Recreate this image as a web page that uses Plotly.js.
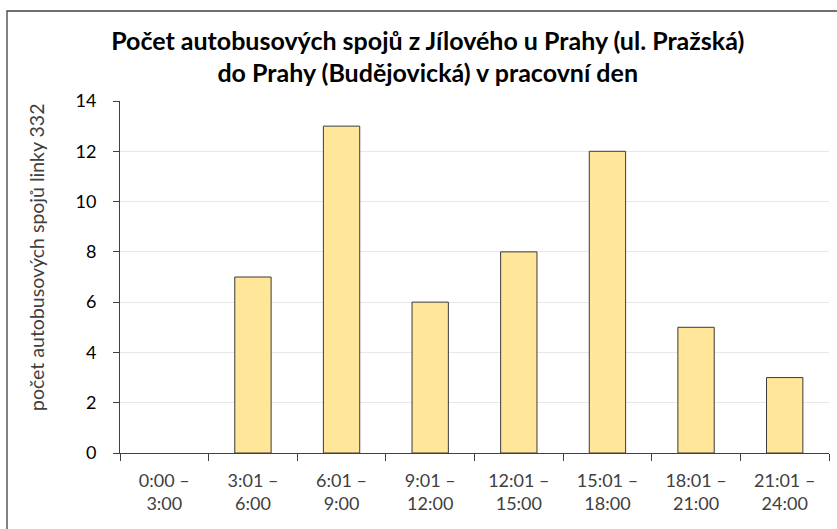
<!DOCTYPE html>
<html>
<head>
<meta charset="utf-8">
<script src="https://cdn.plot.ly/plotly-3.0.1.min.js"></script>
<style>html,body{margin:0;padding:0;background:#fff;}#chart{width:837px;height:529px;}</style>
</head>
<body>
<div id="chart"></div>
<script>
const categories = ["0:00 –<br>3:00","3:01 –<br>6:00","6:01 –<br>9:00","9:01 –<br>12:00","12:01 –<br>15:00","15:01 –<br>18:00","18:01 –<br>21:00","21:01 –<br>24:00"];
const counts = [0, 7, 13, 6, 8, 12, 5, 3];
const yTicks = [0, 2, 4, 6, 8, 10, 12, 14];
const titleText = "Počet autobusových spojů z Jílového u Prahy (ul. Pražská)<br>do Prahy (Budějovická) v pracovní den";
const yTitleText = "počet autobusových spojů linky 332";

const FONT = "Lato, 'Open Sans', sans-serif";

const trace = {
  type: "bar",
  x: categories,
  y: counts,
  marker: {color: "#FFE699", line: {color: "#3a3a3a", width: counts.map(v => v > 0 ? 1 : 0)}},
  hoverinfo: "skip"
};

const layout = {
  width: 837, height: 529,
  margin: {l: 120, r: 8, t: 101, b: 76},
  paper_bgcolor: "#fff", plot_bgcolor: "#fff",
  showlegend: false,
  bargap: 0.59,
  font: {family: FONT, color: "#404040"},
  title: {
    text: titleText,
    font: {family: FONT, size: 25, color: "#000", weight: "bold"},
    x: 0.511, xref: "container", xanchor: "center",
    y: 0.906, yref: "container", yanchor: "middle"
  },
  xaxis: {
    type: "category",
    tickson: "boundaries",
    ticks: "outside", ticklen: 7, tickcolor: "#404040",
    showline: true, linecolor: "#404040", linewidth: 1,
    showgrid: false, zeroline: false,
    tickfont: {family: FONT, size: 18, color: "#404040"},
    ticklabelstandoff: 11,
    fixedrange: true
  },
  yaxis: {
    range: [0, 14],
    tickvals: yTicks, ticktext: yTicks.map(String),
    ticks: "outside", ticklen: 6, tickcolor: "#404040",
    showline: true, linecolor: "#404040", linewidth: 1,
    showgrid: true, gridcolor: "#e8e8e8", gridwidth: 1,
    zeroline: false,
    tickfont: {family: FONT, size: 18, color: "#000"},
    ticklabelstandoff: 13,
    fixedrange: true
  },
  annotations: [{
    text: yTitleText,
    xref: "paper", yref: "paper",
    x: (36 - 120) / 709, y: (453 - 258) / 352,
    xanchor: "center", yanchor: "middle",
    textangle: -90, showarrow: false,
    font: {family: FONT, size: 19.5, color: "#404040"}
  }],
  shapes: [{
    type: "rect", xref: "paper", yref: "paper",
    x0: (7 - 120) / 709, x1: (860 - 120) / 709,
    y0: (453 - 560) / 352, y1: (453 - 11) / 352,
    line: {color: "#404040", width: 1.3}, fillcolor: "rgba(0,0,0,0)",
    layer: "below"
  }]
};

Plotly.newPlot("chart", [trace], layout, {displayModeBar: false, staticPlot: true});
</script>
</body>
</html>
